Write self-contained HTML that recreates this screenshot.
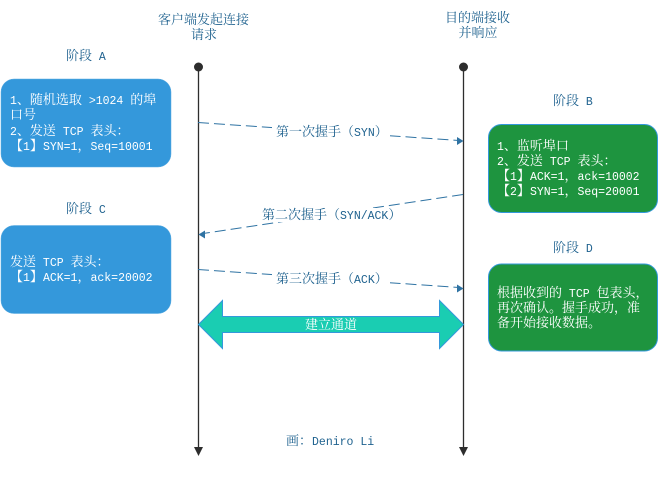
<!DOCTYPE html>
<html><head><meta charset="utf-8"><style>
html,body{margin:0;padding:0;background:#fff;width:658px;height:480px;overflow:hidden}
svg{display:block}
text{font-family:"WenQuanYi Zen Hei","Noto Serif CJK SC",serif;font-size:13px;white-space:pre;fill:#1f628f}
text.w{fill:#fff}
.m{font-family:"Liberation Mono",monospace;font-size:11.5px}
</style></head><body>
<svg width="658" height="480" viewBox="0 0 658 480" xmlns="http://www.w3.org/2000/svg">
<rect width="658" height="480" fill="#fff"/>
<rect x="1" y="79" width="170" height="88" rx="13" fill="#3498db" stroke="#5dade2" stroke-width="0.5"/>
<rect x="1" y="225.5" width="170" height="88" rx="13" fill="#3498db" stroke="#5dade2" stroke-width="0.5"/>
<rect x="488.5" y="124.5" width="169" height="88" rx="13" fill="#1e943f" stroke="#3498db" stroke-width="1"/>
<rect x="488.5" y="264" width="169" height="87" rx="13" fill="#1e943f" stroke="#3498db" stroke-width="1"/>

<g stroke="#2d2d2d" stroke-width="1.3" fill="#2d2d2d">
<line x1="198.5" y1="67" x2="198.5" y2="450"/>
<line x1="463.5" y1="67" x2="463.5" y2="450"/>
</g>
<g fill="#2d2d2d">
<circle cx="198.5" cy="67" r="4.5"/><circle cx="463.5" cy="67" r="4.5"/>
<polygon points="194,447 203,447 198.5,456"/><polygon points="459,447 468,447 463.5,456"/>
</g>

<g stroke="#2f73a3" stroke-width="1" stroke-dasharray="11 5" fill="none">
<line x1="198" y1="122.5" x2="459" y2="140.5"/>
<line x1="463" y1="194.5" x2="203" y2="233.5"/>
<line x1="198" y1="269.5" x2="459" y2="287.5"/>
</g>
<g fill="#2f73a3">
<polygon points="463.5,141 457,137 457,145"/>
<polygon points="198.5,234.5 205,230.5 205,238.5"/>
<polygon points="463.5,288.5 457,284.5 457,292.5"/>
</g>
<rect x="272" y="123" width="118" height="16" fill="#fff"/>
<rect x="262" y="208" width="138" height="14" fill="#fff"/>
<rect x="272" y="270" width="118" height="16" fill="#fff"/>

<polygon points="198.5,324.5 222.5,300.5 222.5,316.5 439.5,316.5 439.5,300.5 463.5,324.5 439.5,348.5 439.5,332.5 222.5,332.5 222.5,348.5" fill="#1acdb2" stroke="#3498db" stroke-width="1"/>
<text class="w" x="305" y="329">建立通道</text>

<text x="158" y="24">客户端发起连接</text>
<text x="191" y="39">请求</text>
<text x="445" y="22">目的端接收</text>
<text x="458.5" y="37">并响应</text>

<text x="66" y="60">阶段<tspan class="m"> A</tspan></text>
<text x="66" y="213">阶段<tspan class="m"> C</tspan></text>
<text x="553" y="105">阶段<tspan class="m"> B</tspan></text>
<text x="553" y="252">阶段<tspan class="m"> D</tspan></text>

<text class="w" x="10" y="104"><tspan class="m">1</tspan>、随机选取<tspan class="m"> &gt;1024 </tspan>的埠</text>
<text class="w" x="10" y="119">口号</text>
<text class="w" x="10" y="135"><tspan class="m">2</tspan>、发送<tspan class="m"> TCP </tspan>表头&#xFF1A;</text>
<text class="w" x="10" y="150">【<tspan class="m">1</tspan>】<tspan class="m">SYN=1</tspan>&#xFF0C;<tspan class="m">Seq=10001</tspan></text>

<text class="w" x="10" y="266">发送<tspan class="m"> TCP </tspan>表头&#xFF1A;</text>
<text class="w" x="10" y="281">【<tspan class="m">1</tspan>】<tspan class="m">ACK=1</tspan>&#xFF0C;<tspan class="m">ack=20002</tspan></text>

<text class="w" x="497" y="150"><tspan class="m">1</tspan>、监听埠口</text>
<text class="w" x="497" y="165"><tspan class="m">2</tspan>、发送<tspan class="m"> TCP </tspan>表头&#xFF1A;</text>
<text class="w" x="497" y="180">【<tspan class="m">1</tspan>】<tspan class="m">ACK=1</tspan>&#xFF0C;<tspan class="m">ack=10002</tspan></text>
<text class="w" x="497" y="195">【<tspan class="m">2</tspan>】<tspan class="m">SYN=1</tspan>&#xFF0C;<tspan class="m">Seq=20001</tspan></text>

<text class="w" x="497" y="297">根据收到的<tspan class="m"> TCP </tspan>包表头&#xFF0C;</text>
<text class="w" x="497" y="312">再次确认。握手成功&#xFF0C;准</text>
<text class="w" x="497" y="327">备开始接收数据。</text>

<text x="276" y="136">第一次握手&#xFF08;<tspan class="m">SYN</tspan>&#xFF09;</text>
<text x="262" y="219">第二次握手&#xFF08;<tspan class="m">SYN/ACK</tspan>&#xFF09;</text>
<text x="276" y="283">第三次握手&#xFF08;<tspan class="m">ACK</tspan>&#xFF09;</text>

<text x="286" y="445">画&#xFF1A;<tspan class="m">Deniro Li</tspan></text>
</svg>
</body></html>
